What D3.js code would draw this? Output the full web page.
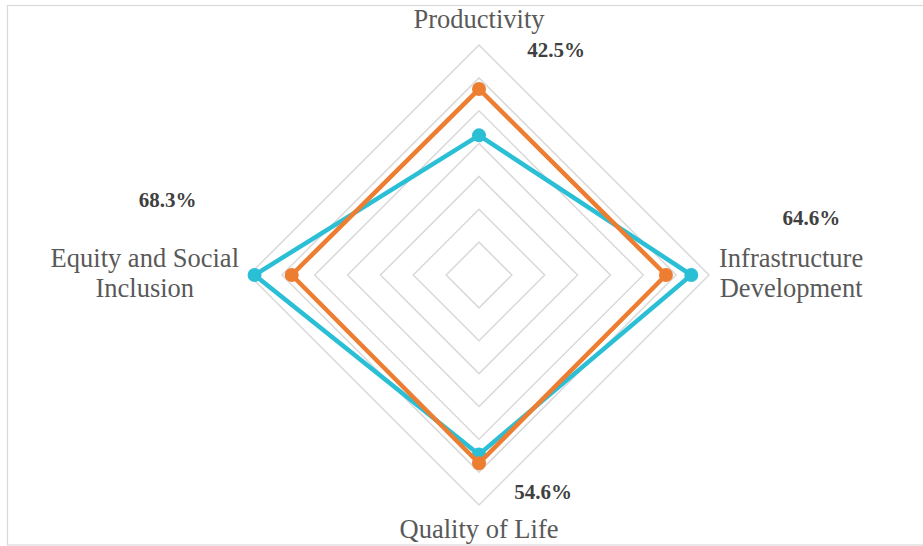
<!DOCTYPE html>
<html>
<head>
<meta charset="utf-8">
<script src="https://cdn.jsdelivr.net/npm/d3@7"></script>
<style>
  html, body { margin: 0; padding: 0; background: #fff; }
  svg { display: block; }
</style>
</head>
<body>
<svg id="chart" width="923" height="546"></svg>
<script>
// ---- data ----
const categories = ["Productivity", "Infrastructure Development", "Quality of Life", "Equity and Social Inclusion"];
const categoryLines = [["Productivity"], ["Infrastructure", "Development"], ["Quality of Life"], ["Equity and Social", "Inclusion"]];
const seriesBlue = [0.425, 0.646, 0.546, 0.683];
const seriesOrange = [0.566, 0.569, 0.573, 0.570];
const blueLabels = ["42.5%", "64.6%", "54.6%", "68.3%"];
const gridLevels = [0.1, 0.2, 0.3, 0.4, 0.5, 0.6, 0.7];

// ---- layout ----
const W = 923, H = 546;
const cx = 479, cy = 275, R = 230;
const labelOffsets = [[77, -85], [120, -57], [64, 37], [-87, -75]]; // data-label offsets from points (px)

const svg = d3.select("#chart");
svg.append("rect").attr("x", 7.5).attr("y", 5.5).attr("width", 930).attr("height", 539.5)
  .attr("fill", "#fff").attr("stroke", "#d9d9d9").attr("stroke-width", 1.2);

const r = d3.scaleLinear().domain([0, 0.7]).range([0, R]);
const angle = d3.scalePoint().domain(d3.range(categories.length)).range([-Math.PI / 2, -Math.PI / 2 + 2 * Math.PI * (categories.length - 1) / categories.length]);
const pt = (i, v) => [cx + r(v) * Math.cos(angle(i)), cy + r(v) * Math.sin(angle(i))];

const g = svg.append("g");
// grid
const radial = d3.lineRadial().angle((d, i) => angle(i) + Math.PI / 2).radius(d => r(d)).curve(d3.curveLinearClosed);
g.selectAll("path.grid").data(gridLevels).join("path")
  .attr("class", "grid")
  .attr("transform", `translate(${cx},${cy})`)
  .attr("d", lv => radial(categories.map(() => lv)))
  .attr("fill", "none").attr("stroke", "#d9d9d9").attr("stroke-width", 1.5);

// series
const series = [
  { values: seriesBlue, color: "#2bbfd6" },
  { values: seriesOrange, color: "#ed7d31" }
];
series.forEach(s => {
  g.append("path")
    .attr("transform", `translate(${cx},${cy})`)
    .attr("d", radial(s.values))
    .attr("fill", "none").attr("stroke", s.color).attr("stroke-width", 4.5)
    .attr("stroke-linejoin", "round");
  g.selectAll(null).data(s.values).join("circle")
    .attr("cx", (d, i) => pt(i, d)[0]).attr("cy", (d, i) => pt(i, d)[1])
    .attr("r", 7).attr("fill", s.color);
});

// data labels (blue series)
const dlSize = 21;
g.selectAll("text.dl").data(seriesBlue).join("text")
  .attr("class", "dl")
  .attr("x", (d, i) => pt(i, d)[0] + labelOffsets[i][0])
  .attr("y", (d, i) => pt(i, d)[1] + labelOffsets[i][1] + dlSize * 0.34)
  .attr("text-anchor", "middle")
  .attr("font-family", "'Liberation Serif', 'Times New Roman', serif")
  .attr("font-weight", "bold").attr("font-size", dlSize).attr("fill", "#404040")
  .text((d, i) => blueLabels[i]);

// axis labels
const axSize = 26.5, lh = 30;
categoryLines.forEach((lines, i) => {
  const [ox, oy] = pt(i, 0.7);
  const t = g.append("text")
    .attr("font-family", "'Liberation Serif', 'Times New Roman', serif")
    .attr("font-size", axSize).attr("fill", "#595959").attr("text-anchor", "middle");
  lines.forEach((ln, k) => t.append("tspan").attr("x", 0).attr("y", k * lh).text(ln));
  let wmax = 0;
  t.selectAll("tspan").each(function () { wmax = Math.max(wmax, this.getComputedTextLength()); });
  let x, y;
  const a = angle(i);
  const ca = Math.round(Math.cos(a)), sa = Math.round(Math.sin(a));
  if (sa === -1) { x = ox; y = oy - 17; }
  else if (sa === 1) { x = ox; y = oy + 33; }
  else if (ca === 1) { x = ox + 10 + wmax / 2; y = oy - 8; }
  else { x = ox - 10 - wmax / 2; y = oy - 8; }
  t.attr("transform", `translate(${x},${y})`);
});
</script>
</body>
</html>
